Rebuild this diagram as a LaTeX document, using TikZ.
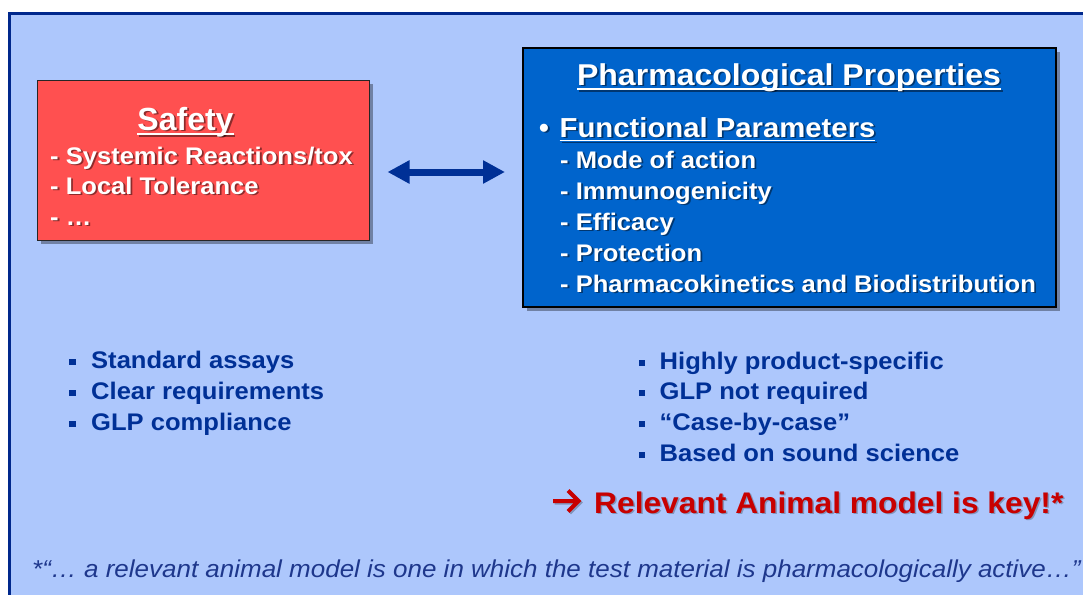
\documentclass[tikz,border=0pt]{standalone}
\usepackage{fontspec}
\setmainfont{Liberation Sans}
\newfontfamily\wf[FakeStretch=1.065]{Liberation Sans}
\usetikzlibrary{arrows.meta,shadows,calc}
\definecolor{bgblue}{RGB}{173,199,252}
\definecolor{navy}{RGB}{0,48,150}
\definecolor{framec}{RGB}{0,40,140}
\definecolor{boxred}{RGB}{255,80,80}
\definecolor{boxblue}{RGB}{0,100,204}
\definecolor{keyred}{RGB}{200,0,0}
\definecolor{notec}{RGB}{30,55,140}
\newcommand\fs[1]{\fontsize{#1}{#1}\selectfont}
\newcommand\myul[1]{\leavevmode\setbox0\hbox{#1}\rlap{\vrule height -0.1em depth 0.16em width \wd0}\box0}
\newcommand\ShTxt[4]{%
  \node[txt,#3,text=black,opacity=0.45] at ([xshift=1.8pt,yshift=-1.8pt]#2) {#4};
  \node[txt,#3] (#1) at (#2) {#4};}
\begin{document}
\begin{tikzpicture}[x=1pt,y=-1pt,
  txt/.style={text=white, font=\wf\bfseries, inner sep=0pt, anchor=base west},
  btxt/.style={text=navy, font=\wf\bfseries\fs{24}, inner sep=0pt, anchor=base west},
  sq/.style={fill=navy, inner sep=0pt, minimum size=6.5pt},
  boxshadow/.style={drop shadow={shadow xshift=4pt, shadow yshift=-4pt, opacity=0.35, fill=black}}]
\useasboundingbox (0,0) rectangle (1083,594);
\clip (0,0) rectangle (1083,594);
\fill[white] (0,0) rectangle (1083,594);
\draw[framec, line width=3pt, fill=bgblue] (9.5,14) rectangle (1120,640);
% boxes
\node[boxshadow, draw=black!85, line width=1pt, fill=boxred, minimum width=332pt, minimum height=160pt, inner sep=0pt] (red) at (203,160) {};
\node[boxshadow, draw=black, line width=2pt, fill=boxblue, minimum width=533pt, minimum height=259pt, inner sep=0pt] (blue) at (789.5,177.5) {};
% safety texts
\ShTxt{safety}{185.5,130}{anchor=base, font=\bfseries\fs{32}}{\myul{Safety}}
\ShTxt{s1}{50,164}{font=\wf\bfseries\fs{24}}{- Systemic Reactions/tox}
\ShTxt{s2}{50,194}{font=\wf\bfseries\fs{24}}{- Local Tolerance}
\ShTxt{s3}{50,225}{font=\wf\bfseries\fs{24}}{- …}
% pharmacological texts
\ShTxt{ph}{789,85}{anchor=base, font=\wf\bfseries\fs{30.1}}{\myul{Pharmacological Properties}}
\ShTxt{bul}{539,137}{font=\bfseries\fs{28}}{•}
\ShTxt{fp}{559.5,137}{font=\wf\bfseries\fs{27.5}}{\myul{Functional Parameters}}
\ShTxt{p1}{560,168}{font=\wf\bfseries\fs{24}}{- Mode of action}
\ShTxt{p2}{560,199}{font=\wf\bfseries\fs{24}}{- Immunogenicity}
\ShTxt{p3}{560,230}{font=\wf\bfseries\fs{24}}{- Efficacy}
\ShTxt{p4}{560,261}{font=\wf\bfseries\fs{24}}{- Protection}
\ShTxt{p5}{560,292}{font=\wf\bfseries\fs{24}}{- Pharmacokinetics and Biodistribution}
% arrow between boxes
\coordinate (aY) at (0,172);
\draw[navy, line width=7pt, shorten <=18pt, shorten >=17pt,
  {Triangle[length=22pt,width=22pt]}-{Triangle[length=22pt,width=22pt]}]
  (red.east |- aY) -- (blue.west |- aY);
% left bullets
\node[sq] (lq1) at (72.5,362) {};
\node[btxt] (l1) at (91,368) {Standard assays};
\node[sq] (lq2) at (72.5,393) {};
\node[btxt] (l2) at (91,399) {Clear requirements};
\node[sq] (lq3) at (72.5,424) {};
\node[btxt] (l3) at (91,430) {GLP compliance};
% right bullets
\node[sq] (rq1) at (642,363) {};
\node[btxt] (r1) at (659.5,369) {Highly product-specific};
\node[sq] (rq2) at (642,393) {};
\node[btxt] (r2) at (659.5,399) {GLP not required};
\node[sq] (rq3) at (642,424) {};
\node[btxt] (r3) at (659.5,430) {“Case-by-case”};
\node[sq] (rq4) at (642,455) {};
\node[btxt] (r4) at (659.5,461) {Based on sound science};
% key
\node[txt, text=black, opacity=0.25, font=\wf\bfseries\fs{29.8}] at ([xshift=1.5pt,yshift=-1.5pt]594,513) {Relevant Animal model is key!*};
\node[txt, text=keyred, font=\wf\bfseries\fs{29.8}] (key) at (594,513) {Relevant Animal model is key!*};
\coordinate (ka) at (553,501);
\draw[black, opacity=0.25, line width=4pt, shift={(1.5pt,-1.5pt)}] (553,501) -- (578,501) (568,490.5) -- (578.5,501) -- (568,511.5);
\draw[keyred, line width=4pt, miter limit=4] (ka) -- (578,501) (568,490.5) -- (578.5,501) -- (568,511.5);
% footnote
\node[txt, text=notec, font=\wf\itshape\fs{24.4}] (note) at (32,577) {*“… a relevant animal model is one in which the test material is pharmacologically active…”};
\end{tikzpicture}
\end{document}
